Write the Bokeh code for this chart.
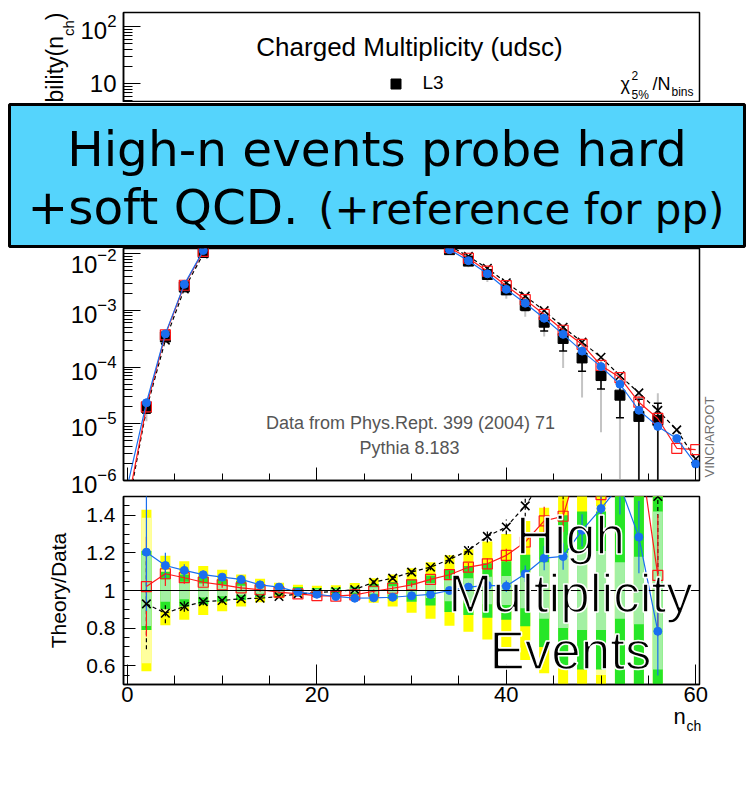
import math
from bokeh.plotting import figure
from bokeh.layouts import column, row
from bokeh.models import (Range1d, FixedTicker, Label, Span, LogAxis,
                          CustomJSTickFormatter, LogTickFormatter, Legend, LegendItem)
from bokeh.embed import file_html
from bokeh.resources import INLINE

# ---------------- data ----------------
n_ch = [2, 4, 6, 8, 10, 12, 14, 16, 18, 20, 22, 24, 26, 28,
        30, 32, 34, 36, 38, 40, 42, 44, 46, 48, 50, 52, 54, 56]
l3_prob = [1.95e-5, 3.4e-4, 2.6e-3, 1.05e-2, 2.9e-2, 5.6e-2, 8.3e-2, 0.101,
           0.106, 0.100, 0.087, 0.071, 0.055, 0.041, 0.029, 0.0195, 0.0118,
           7.4e-3, 4.3e-3, 2.3e-3, 1.23e-3, 6.2e-4, 3.2e-4, 1.45e-4, 7.1e-5,
           3.2e-5, 1.35e-5, 1.15e-5]
# relative uncertainties of the data (inner = green band, outer = yellow band)
l3_err_inner = [0.21, 0.10, 0.085, 0.075, 0.06, 0.05, 0.035, 0.025, 0.018, 0.013,
                0.015, 0.02, 0.035, 0.045, 0.06, 0.08, 0.115, 0.13, 0.145, 0.155,
                0.19, 0.30, 0.40, 0.42, 0.42, 0.60, 1.0, 1.0]
l3_err_outer = [0.43, 0.185, 0.155, 0.13, 0.11, 0.085, 0.062, 0.041, 0.03, 0.025,
                0.028, 0.04, 0.065, 0.085, 0.118, 0.15, 0.187, 0.22, 0.26, 0.30,
                0.37, 0.44, 0.70, 0.80, 0.90, 1.2, 1.5, 2.0]
l3_stat_frac = [0.9, 0.6, 0.55, 0.5, 0.5, 0.5, 0.5, 0.5, 0.5, 0.5, 0.5, 0.5, 0.5, 0.5,
                0.5, 0.5, 0.5, 0.5, 0.5, 0.5, 0.5, 0.5, 0.5, 0.5, 0.5, 0.25, 0.18, 0.42]

# Theory / Data ratios
ratio_black = [0.929, 0.879, 0.915, 0.941, 0.947, 0.956, 0.959, 0.968, 0.982, 0.989,
               0.995, 1.005, 1.044, 1.066, 1.098, 1.124, 1.165, 1.213, 1.288, 1.338,
               1.45, 1.60, 1.58, 1.90, 2.10, 2.20, 2.60, 1.50]
ratio_red = [1.021, 1.089, 1.068, 1.044, 1.030, 1.014, 1.004, 0.991, 0.982, 0.973,
             0.970, 0.977, 0.996, 1.012, 1.030, 1.059, 1.084, 1.124, 1.142, 1.187,
             1.258, 1.37, 1.395, 1.74, 1.51, 2.04, 1.78, 1.08]
ratio_blue = [1.204, 1.133, 1.107, 1.084, 1.071, 1.059, 1.030, 1.018, 0.991, 0.980,
              0.968, 0.959, 0.961, 0.964, 0.972, 0.979, 1.000, 1.018, 1.027, 1.023,
              1.089, 1.172, 1.181, 1.32, 1.436, 1.56, 1.284, 0.783]
mc_rel_err = [0.26, 0.06, 0.03, 0.02, 0.015, 0.012, 0.01, 0.01, 0.008, 0.008,
              0.008, 0.008, 0.01, 0.01, 0.012, 0.015, 0.018, 0.02, 0.025, 0.03,
              0.04, 0.055, 0.06, 0.065, 0.08, 0.10, 0.15, 0.30]

# MC points outside the measured range
n_tail_lo = [0]
n_tail_hi = [58, 60]
black_tail_lo = [3.0e-7]
black_tail_hi = [7.8e-6, 2.4e-6]
red_tail_lo = [3.7e-7]
red_tail_hi = [3.7e-6, 3.5e-6]
blue_tail_lo = [8.0e-7]
blue_tail_hi = [5.5e-6, 1.95e-6]

x_ticks = [0, 20, 40, 60]
ratio_ticks = [0.6, 0.8, 1.0, 1.2, 1.4]
decades = [-6, -5, -4, -3, -2, -1, 0, 1, 2]

# ---------------- geometry (canvas pixels) ----------------
X0, X1 = -0.42, 60.4
LOGTOP = 2.254
FL, FR = 123, 699
UT, UB = 12, 480              # full upper panel frame (split around the message box)
LT, LB = 496, 684             # ratio panel frame
BOX_T, BOX_B = 102, 248       # canvas rows taken by the message box
BOT_END = 495
FOOT_T = 711
W = 753


def dx(px):
    return X0 + (px - FL) * (X1 - X0) / (FR - FL)


def uy(py):
    return 10 ** (-6 + (UB - py) * (LOGTOP + 6) / (UB - UT))


def ly(py):
    return 0.5 + (LB - py) / (LB - LT)


def ident(v):
    return v


FONT = "Liberation Sans"
BLUE = "#1a6ff0"
RED = "#ff1a1a"

xr = Range1d(X0, X1)


def base_style(p):
    p.outline_line_color = "black"
    p.outline_line_width = 1.5
    p.xgrid.visible = False
    p.ygrid.visible = False
    p.background_fill_color = "white"
    p.border_fill_color = "white"
    for ax in list(p.xaxis) + list(p.yaxis):
        ax.axis_line_color = "black"
        ax.axis_line_width = 1.5
        ax.major_tick_out = 0
        ax.minor_tick_out = 0
        ax.major_tick_line_color = "black"
        ax.minor_tick_line_color = "black"
        ax.major_label_text_font = FONT
        ax.major_label_text_color = "black"


def blank_fig(width, height, x0, x1, ytop, ybot, bl=0, br=0, bt=0, bb=0):
    """Axis-less figure, not aligned with its neighbours; data coords == canvas pixels."""
    p = figure(width=width, height=height, x_range=Range1d(x0, x1),
               y_range=Range1d(ybot, ytop), x_axis_location=None, y_axis_location=None,
               output_backend="svg", toolbar_location=None, title=None,
               min_border_left=bl, min_border_right=br, min_border_top=bt,
               min_border_bottom=bb, frame_align=False)
    p.grid.visible = False
    p.outline_line_color = None
    p.background_fill_color = "white"
    p.border_fill_color = "white"
    return p


def label(p, px, py, text, size, fx=ident, fy=ident, color="black", font=FONT,
          align="left", angle=0.0, outline=None):
    """Text whose alphabetic baseline passes through canvas pixel (px, py)."""
    k = 0.38 * size            # the renderer centres the text on the anchor
    if angle == 0.0:
        py -= k
    else:
        px -= k
    kw = dict(x=fx(px), y=fy(py), text=text, text_font=font, text_font_size=f"{size}px",
              text_color=color, text_align=align, text_baseline="alphabetic", angle=angle)
    if outline:
        kw["text_outline_color"] = outline
    p.add_layout(Label(**kw))


def style_log_yaxis(p):
    p.yaxis.ticker = FixedTicker(ticks=[10.0 ** k for k in decades],
                                 minor_ticks=[m * 10.0 ** k for k in decades
                                              for m in range(2, 10)])
    p.yaxis.formatter = LogTickFormatter(min_exponent=1)
    p.yaxis.major_label_overrides = {10.0: "10"}
    p.yaxis.major_label_text_font_size = "24px"
    p.yaxis.major_label_standoff = 7
    p.yaxis.major_tick_in = 17
    p.yaxis.minor_tick_in = 9


n_mc = n_tail_lo + n_ch + n_tail_hi


def mc_curve(lo, ratio, hi):
    return lo + [d * r for d, r in zip(l3_prob, ratio)] + hi


black_up = mc_curve(black_tail_lo, ratio_black, black_tail_hi)
red_up = mc_curve(red_tail_lo, ratio_red, red_tail_hi)
blue_up = mc_curve(blue_tail_lo, ratio_blue, blue_tail_hi)


def draw_upper(p):
    lo2 = [max(d * (1 - e), 1e-9) for d, e in zip(l3_prob, l3_err_outer)]
    hi2 = [d * (1 + e) for d, e in zip(l3_prob, l3_err_outer)]
    lo1 = [max(d * (1 - e), 1e-9) for d, e in zip(l3_prob, l3_err_inner)]
    hi1 = [d * (1 + e) for d, e in zip(l3_prob, l3_err_inner)]
    p.segment(x0=n_ch, y0=lo2, x1=n_ch, y1=hi2, line_color="#c4c4c4", line_width=2)
    p.segment(x0=n_ch, y0=lo1, x1=n_ch, y1=hi1, line_color="black", line_width=1.5)
    cap_x = [n for n, v in zip(n_ch, lo1) if v > 1e-6] + n_ch
    cap_y = [v for v in lo1 if v > 1e-6] + hi1
    p.scatter(x=cap_x, y=cap_y, marker="dash", size=8, line_color="black", line_width=1.5)
    r = p.scatter(x=n_ch, y=l3_prob, marker="square", size=10,
                  fill_color="black", line_color="black")
    p.line(n_mc, black_up, line_color="black", line_dash="4 3", line_width=1.2)
    p.scatter(n_mc, black_up, marker="x", size=12, line_color="black", line_width=1.6)
    p.line(n_mc, red_up, line_color=RED, line_width=1.2)
    p.scatter(n_mc, red_up, marker="square", size=10, fill_alpha=0, line_color=RED,
              line_width=1.2)
    p.line(n_mc, blue_up, line_color=BLUE, line_width=1.2)
    p.scatter(n_mc, blue_up, marker="circle", size=8, fill_color=BLUE, line_color=BLUE)
    return r


# ================= upper panel, part above the message box =================
YT_W = 76
ytitle = blank_fig(YT_W, BOX_T, 0, YT_W, 0, BOX_T)
label(ytitle, 63, 35.5, "Probability(n", 23, align="right", angle=math.pi / 2)
label(ytitle, 74, 19.7, "ch", 15, align="right", angle=math.pi / 2)
label(ytitle, 63, 12, ")", 23, align="right", angle=math.pi / 2)

top = figure(width=W - YT_W, height=BOX_T, x_range=xr,
             y_range=Range1d(uy(BOX_T), 10 ** LOGTOP), y_axis_type="log",
             x_axis_location=None, output_backend="svg", toolbar_location=None, title=None,
             min_border_left=FL - YT_W, min_border_right=W - FR, min_border_top=UT,
             min_border_bottom=0, frame_align=False)
base_style(top)
style_log_yaxis(top)
r_l3 = draw_upper(top)

leg = Legend(items=[LegendItem(label="L3", renderers=[r_l3])],
             location=(259.5, BOX_T - 95.5), border_line_color=None,
             background_fill_alpha=0, label_text_font=FONT, label_text_font_size="19px",
             label_text_color="black", glyph_width=25, glyph_height=25, label_standoff=15,
             padding=0, margin=0, spacing=0, label_height=25)
top.add_layout(leg)
label(top, 409, 56, "Charged Multiplicity (udsc)", 26, dx, uy, align="center")
label(top, 620, 90, "\u03c7", 18, dx, uy)
label(top, 631, 80, "2", 12, dx, uy)
label(top, 631, 99, "5%", 12, dx, uy)
label(top, 652, 90, "/N", 18, dx, uy)
label(top, 671, 96, "bins", 12, dx, uy)

# ================= message box =================
box = blank_fig(W, BOX_B - BOX_T, 9, W - 9, BOX_T + 2, BOX_B - 2, bl=9, br=9, bt=2, bb=2)
box.background_fill_color = "#55d4fc"
box.outline_line_color = "black"
box.outline_line_width = 3
label(box, 376.5, 167, "High-n events probe hard", 48.5, font="DejaVu Sans", align="center")
label(box, 27, 225, "+soft QCD.", 48.5, font="DejaVu Sans")
label(box, 724, 225, "(+reference for pp)", 42, font="DejaVu Sans", align="right")

# ================= upper panel, part below the message box =================
bot = figure(width=W, height=BOT_END - BOX_B, x_range=xr,
             y_range=Range1d(1e-6, uy(BOX_B)), y_axis_type="log",
             output_backend="svg", toolbar_location=None, title=None,
             min_border_left=FL, min_border_right=W - FR, min_border_top=0,
             min_border_bottom=BOT_END - UB, frame_align=False)
base_style(bot)
style_log_yaxis(bot)
bot.xaxis.ticker = FixedTicker(ticks=x_ticks, minor_ticks=list(range(0, 61, 5)))
bot.xaxis.formatter = CustomJSTickFormatter(code="return ''")
bot.xaxis.major_label_standoff = 0
bot.xaxis.major_tick_in = 13
bot.xaxis.minor_tick_in = 7
draw_upper(bot)
label(bot, 410, 429, "Data from Phys.Rept. 399 (2004) 71", 18, dx, uy,
      color="#555555", align="center")
label(bot, 409, 454, "Pythia 8.183", 18, dx, uy, color="#555555", align="center")

vinci = LogAxis(ticker=FixedTicker(ticks=[uy(477)], minor_ticks=[]),
                formatter=CustomJSTickFormatter(code="return 'VINCIAROOT'"),
                major_label_orientation=math.pi / 2, major_label_text_font=FONT,
                major_label_text_font_size="13px", major_label_text_color="#707070",
                major_label_standoff=4, axis_line_color=None,
                major_tick_line_color=None, minor_tick_line_color=None)
bot.add_layout(vinci, "right")

# ================= ratio panel =================
lo = figure(width=W, height=FOOT_T - BOT_END, x_range=xr, y_range=Range1d(0.5, 1.5),
            output_backend="svg", toolbar_location=None, title=None,
            min_border_left=FL, min_border_right=W - FR, min_border_top=LT - BOT_END,
            min_border_bottom=FOOT_T - LB, frame_align=False)
base_style(lo)
lo.xaxis.ticker = FixedTicker(ticks=x_ticks, minor_ticks=list(range(0, 61, 5)))
lo.xaxis.major_tick_in = 20
lo.xaxis.minor_tick_in = 9
lo.xaxis.major_label_text_font_size = "22px"
lo.xaxis.major_label_standoff = 2
lo.yaxis.ticker = FixedTicker(ticks=ratio_ticks,
                              minor_ticks=[round(0.5 + 0.05 * i, 2) for i in range(21)])
lo.yaxis.formatter = CustomJSTickFormatter(code="return String(Math.round(tick*10)/10)")
lo.yaxis.major_tick_in = 12
lo.yaxis.minor_tick_in = 6
lo.yaxis.major_label_text_font_size = "21px"
lo.yaxis.major_label_standoff = 8
lo.yaxis.axis_label = "Theory/Data"
lo.yaxis.axis_label_text_font = FONT
lo.yaxis.axis_label_text_font_size = "21px"
lo.yaxis.axis_label_text_font_style = "normal"
lo.yaxis.axis_label_text_color = "black"
lo.yaxis.axis_label_standoff = 13

half = 0.53
bl_ = [n - half for n in n_ch]
br_ = [n + half for n in n_ch]
lo.quad(left=bl_, right=br_, bottom=[1 - e for e in l3_err_outer],
        top=[1 + e for e in l3_err_outer], fill_color="#ffff00", line_color=None)
lo.quad(left=bl_, right=br_, bottom=[1 - e * k for e, k in zip(l3_err_outer, l3_stat_frac)],
        top=[1 + e * k for e, k in zip(l3_err_outer, l3_stat_frac)],
        fill_color="#ffff9e", line_color=None)
lo.quad(left=bl_, right=br_, bottom=[1 - e for e in l3_err_inner],
        top=[1 + e for e in l3_err_inner], fill_color="#27e627", line_color=None)
lo.quad(left=bl_, right=br_, bottom=[1 - e * k for e, k in zip(l3_err_inner, l3_stat_frac)],
        top=[1 + e * k for e, k in zip(l3_err_inner, l3_stat_frac)],
        fill_color="#a3f0a3", line_color=None)

lo.add_layout(Span(location=1.0, dimension="width", line_color="black", line_width=1.2))


def err_bounds(ratio):
    return ([r * (1 - e) for r, e in zip(ratio, mc_rel_err)],
            [r * (1 + e) for r, e in zip(ratio, mc_rel_err)])


b0, b1 = err_bounds(ratio_black)
lo.segment(x0=n_ch, y0=b0, x1=n_ch, y1=b1, line_color="black", line_dash="4 3", line_width=1.2)
r0, r1 = err_bounds(ratio_red)
lo.segment(x0=n_ch, y0=r0, x1=n_ch, y1=r1, line_color=RED, line_width=1.2)
u0, u1 = err_bounds(ratio_blue)
lo.segment(x0=n_ch, y0=u0, x1=n_ch, y1=u1, line_color=BLUE, line_width=1.2)

lo.line(n_ch, ratio_black, line_color="black", line_dash="4 3", line_width=1.2)
lo.scatter(n_ch, ratio_black, marker="x", size=12, line_color="black", line_width=1.6)
lo.line(n_ch, ratio_red, line_color=RED, line_width=1.2)
lo.scatter(n_ch, ratio_red, marker="square", size=10, fill_alpha=0, line_color=RED,
           line_width=1.2)
lo.line(n_ch, ratio_blue, line_color=BLUE, line_width=1.2)
lo.scatter(n_ch, ratio_blue, marker="circle", size=8, fill_color=BLUE, line_color=BLUE)

for txt, py in (("High", 555), ("Multiplicity", 613), ("Events", 670)):
    label(lo, 570, py, txt, 53, dx, ly, align="center", outline="white")

# ================= x-axis title below the ratio panel =================
foot = blank_fig(W, 748 - FOOT_T, 0, W, FOOT_T, 748)
label(foot, 673, 724, "n", 22)
label(foot, 686, 731, "ch", 14)

layout = column(row(ytitle, top), box, bot, lo, foot)
open("out.html", "w").write(file_html(layout, INLINE))
